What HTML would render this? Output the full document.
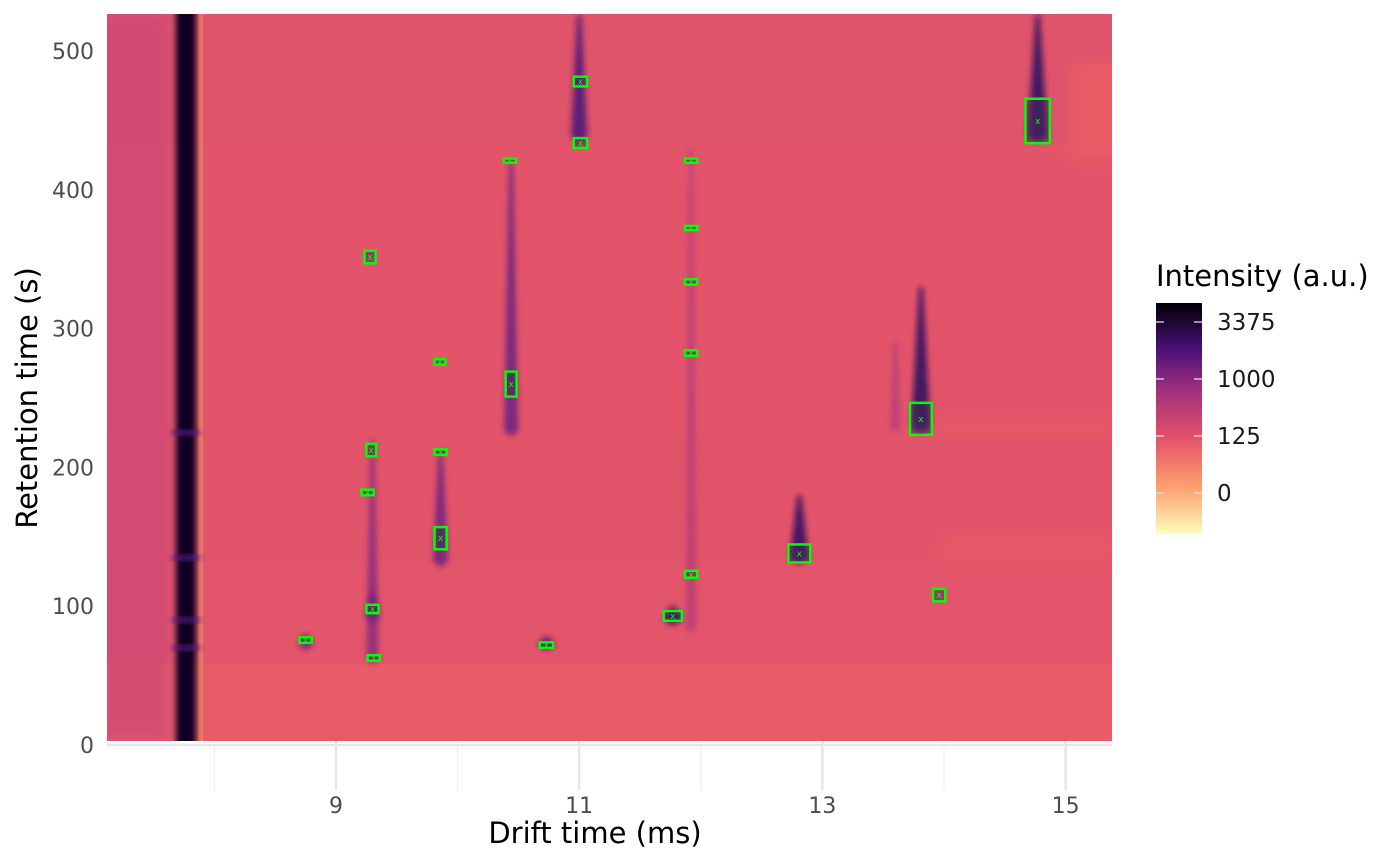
<!DOCTYPE html>
<html><head><meta charset="utf-8"><style>
html,body{margin:0;padding:0;background:#fff;}
svg{display:block;font-family:"DejaVu Sans","Liberation Sans",sans-serif;}
</style></head><body>
<svg id="chart" width="1400" height="865" viewBox="0 0 1400 865">
<defs>
<filter id="blur3" x="-100%" y="-20%" width="300%" height="140%"><feGaussianBlur stdDeviation="3"/></filter>
<filter id="blur8" x="-50%" y="-50%" width="200%" height="200%"><feGaussianBlur stdDeviation="8"/></filter>
<linearGradient id="legendGrad" x1="0" y1="1" x2="0" y2="0">
<stop offset="0" stop-color="#fcfdbf"/><stop offset="0.2" stop-color="#fea16e"/><stop offset="0.42" stop-color="#e3506a"/>
<stop offset="0.62" stop-color="#a3307e"/><stop offset="0.8" stop-color="#4a1079"/><stop offset="1" stop-color="#000004"/>
</linearGradient>
<clipPath id="plotClip"><rect x="107" y="14" width="1005" height="727"/></clipPath>
</defs>
<g id="plot" clip-path="url(#plotClip)"></g>
<g id="axes"></g>
<g id="boxes"></g>
<g>
<text x="1156" y="286" font-size="29" fill="#000">Intensity (a.u.)</text>
<rect x="1156" y="303" width="46" height="231" fill="url(#legendGrad)"/>
<g stroke="#ddd" stroke-width="1.3">
<line x1="1156" y1="322" x2="1164" y2="322"/><line x1="1194" y1="322" x2="1202" y2="322"/>
<line x1="1156" y1="379" x2="1164" y2="379"/><line x1="1194" y1="379" x2="1202" y2="379"/>
<line x1="1156" y1="436" x2="1164" y2="436"/><line x1="1194" y1="436" x2="1202" y2="436"/>
<line x1="1156" y1="493" x2="1164" y2="493"/><line x1="1194" y1="493" x2="1202" y2="493"/>
</g>
<g font-size="23" fill="#1a1a1a">
<text x="1217" y="330">3375</text>
<text x="1217" y="387">1000</text>
<text x="1217" y="444">125</text>
<text x="1217" y="501">0</text>
</g>
</g>
<text x="595" y="843" font-size="29" text-anchor="middle" fill="#000">Drift time (ms)</text>
<text transform="translate(37,398) rotate(-90)" font-size="29" text-anchor="middle" fill="#000">Retention time (s)</text>
</svg>
<script>
const xTicks = [9, 11, 13, 15];
const xMinor = [8, 10, 12, 14];
const yTicks = [0, 100, 200, 300, 400, 500];
// peak boxes: drift centre, retention centre, drift width, retention height
const peakDt = [11.01, 11.01, 10.43, 11.92, 11.92, 11.92, 11.92, 11.92, 9.28, 9.855, 10.44, 9.29, 9.86, 9.26, 9.86, 9.30, 8.75, 9.31, 10.73, 11.77, 12.81, 13.81, 13.96, 14.77];
const peakRt = [478, 433.7, 421, 421, 372.5, 333.6, 282.4, 123, 351.6, 276, 260, 212.5, 211, 182, 149, 98, 75.6, 62.7, 72, 93, 138, 235, 108, 449.6];
const peakW = [0.11, 0.11, 0.1, 0.1, 0.1, 0.1, 0.1, 0.1, 0.09, 0.09, 0.09, 0.08, 0.1, 0.1, 0.1, 0.1, 0.1, 0.1, 0.11, 0.15, 0.18, 0.18, 0.1, 0.2];
const peakH = [7, 7, 3, 3, 3, 4, 4, 5, 9, 4, 18, 9, 4, 4, 16, 6, 4, 4, 4, 7, 13, 23, 9, 32];
// signal streaks: drift, rt top, rt bottom, intensity level 0..1
const blobDt = [11.0, 10.44, 9.86, 9.30, 14.77, 13.81, 12.81, 11.77, 10.73, 8.75, 11.92, 13.6, 9.30];
const blobRtTop = [526, 420, 212, 220, 526, 330, 180, 100, 78, 80, 430, 290, 110];
const blobRtBot = [434, 222, 128, 58, 434, 225, 130, 86, 68, 68, 80, 225, 88];
const blobLevel = [0.6, 0.45, 0.5, 0.3, 0.85, 0.8, 0.8, 0.8, 0.7, 0.55, 0.15, 0.15, 0.45];

const NS = 'http://www.w3.org/2000/svg';
const X0 = 336, XS = 121.6, Y0 = 745, YS = 1.388;
const xs = v => X0 + (v - 9) * XS;
const ys = v => Y0 - v * YS;
function mk(tag, attrs, parent){const e=document.createElementNS(NS,tag);for(const k in attrs)e.setAttribute(k,attrs[k]);parent.appendChild(e);return e;}

const plot = document.getElementById('plot');
const bands = [[530,433,'#df536b'],[433,222,'#e3546a'],[222,133,'#e2546a'],[133,58,'#e3556a'],[58,-5,'#e85b67']];
bands.forEach(b=>{const r=mk('rect',{x:107,y:ys(b[0]),width:1005,height:ys(b[1])-ys(b[0])+1,fill:b[2]},plot);

});
mk('rect',{x:100,y:14,width:70,height:727,fill:'#c7437a',opacity:0.55,filter:'url(#blur8)'},plot);
mk('rect',{x:1070,y:60,width:60,height:100,fill:'#ee6263',opacity:0.6,filter:'url(#blur8)'},plot);
mk('rect',{x:940,y:538,width:172,height:22,fill:'#ec5f65',opacity:0.6,filter:'url(#blur8)'},plot);
mk('rect',{x:940,y:420,width:172,height:14,fill:'#ec5f65',opacity:0.6,filter:'url(#blur8)'},plot);
mk('rect',{x:198,y:14,width:5,height:727,fill:'#f3806a',opacity:0.8},plot);
const mc = mk('rect',{x:176,y:0,width:20,height:760,rx:8,fill:'#0c0620',filter:'url(#blur3)'},plot);


[225,135,90,70].forEach(r=>{mk('rect',{x:172,y:ys(r)-3,width:28,height:6,fill:'#5a1a7e',opacity:0.8,filter:'url(#blur3)'},plot);});

const col = l => l>0.75?'#2a1060':l>0.55?'#4a167a':l>0.4?'#6a2180':l>0.25?'#87297f':'#b63d78';
blobDt.forEach((d,i)=>{
  const cx = xs(d), yt = ys(blobRtTop[i]), yb = ys(blobRtBot[i]);
  const wb = 8 + blobLevel[i]*14, wt = 4;
  const p = mk('polygon',{points:`${cx-wt/2},${yt} ${cx+wt/2},${yt} ${cx+wb/2},${yb-6} ${cx},${yb} ${cx-wb/2},${yb-6}`,fill:col(blobLevel[i]),opacity:0.85,filter:'url(#blur3)'},plot);
  
  
});

const axes = document.getElementById('axes');
xMinor.forEach(t=>{mk('line',{x1:xs(t),y1:741,x2:xs(t),y2:790,stroke:'#f0f0f0','stroke-width':1.2},axes);});
xTicks.forEach(t=>{
  mk('line',{x1:xs(t),y1:741,x2:xs(t),y2:790,stroke:'#e6e6e6','stroke-width':2.5},axes);
  const tx = mk('text',{x:xs(t),y:813,'font-size':22,'text-anchor':'middle',fill:'#4d4d4d'},axes);
  tx.textContent = t;
  
  
});
mk('line',{x1:107,y1:745,x2:1112,y2:745,stroke:'#e6e6e6','stroke-width':2.5},axes);
yTicks.forEach(t=>{
  const tx = mk('text',{x:94,y:ys(t)+8,'font-size':22,'text-anchor':'end',fill:'#4d4d4d'},axes);
  tx.textContent = t;
  
  
});

const boxes = document.getElementById('boxes');
peakDt.forEach((d,i)=>{
  const w = peakW[i]*XS, h = peakH[i]*YS;
  const cx = xs(d), cy = ys(peakRt[i]);
  const g = mk('g',{},boxes);
  
  
  mk('rect',{x:cx-w/2,y:cy-h/2,width:w,height:h,fill:'#3a2a5a','fill-opacity':0.5,stroke:'#00ff00','stroke-width':2.5},g);
  mk('text',{x:cx,y:cy+3,'font-size':9,'text-anchor':'middle',fill:'#00ff00'},g).textContent='x';
});
</script>
</body></html>
